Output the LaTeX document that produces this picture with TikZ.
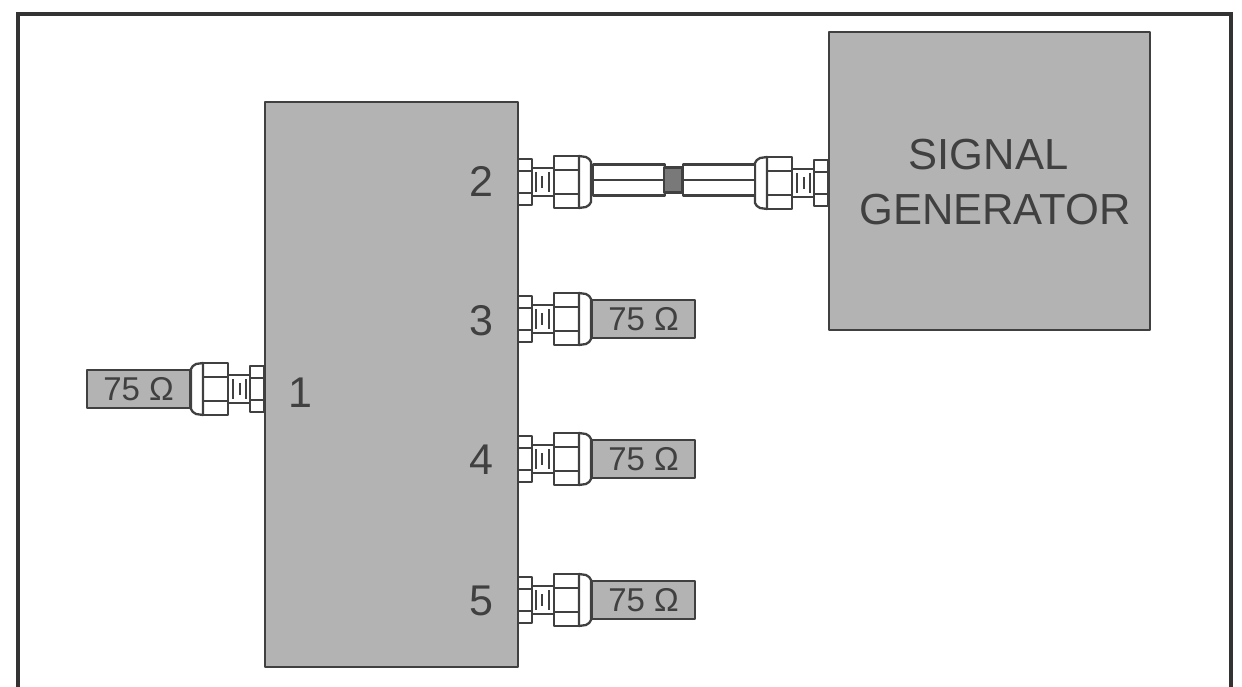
\documentclass[tikz,border=0pt]{standalone}
\usepackage{fontspec}
\setmainfont{Liberation Sans}
\definecolor{boxgray}{HTML}{B3B3B3}
\definecolor{wiregray}{HTML}{404040}
\tikzset{
  wire/.style={draw=wiregray,line width=2.3pt,line join=round},
  box/.style={wire,fill=boxgray,inner sep=0pt,text=wiregray},
  portlabel/.style={inner sep=0pt,text=wiregray,font=\fontsize{43}{43}\selectfont},
  load/.style={box,minimum width=103pt,minimum height=38pt,anchor=west,font=\fontsize{33}{33}\selectfont},
  cable/.style={wire,fill=white,inner sep=0pt,minimum width=72pt,minimum height=31pt,anchor=west},
  fitting/.pic={
    \draw[wire,fill=white] (0,-23) rectangle (14,23);
    \draw[wire] (0,-11)--(14,-11) (0,11)--(14,11);
    \draw[wire,fill=white] (14,-14) rectangle (36,14);
    \draw[wire] (18,-10)--(18,10) (24,-6)--(24,6) (31,-10)--(31,10);
    \draw[wire,fill=white] (36,-26) rectangle (61,26);
    \draw[wire] (36,-12)--(61,-12) (36,12)--(61,12);
    \draw[wire,fill=white] (61,-26) -- (68,-25) .. controls (71,-24) and (72,-22) .. (73,-20) -- (73,20) .. controls (72,22) and (71,24) .. (68,25) -- (61,26) -- cycle;
  }
}
\begin{document}
\begin{tikzpicture}[x=1pt,y=-1pt]
\useasboundingbox (0,0) rectangle (1242,687);
\draw[draw=black!80,line width=4pt] (18,687)--(18,14)--(1231,14)--(1231,687);
% ports on the main box
\node[box,minimum width=253pt,minimum height=565pt] (splitter) at (391.5,384.5) {};
\node[box,minimum width=321pt,minimum height=298pt] (generator) at (989.5,181) {};
\node[inner sep=0pt,text=wiregray,align=center,font=\fontsize{43.5}{55}\selectfont] (genlabel) at (995,182) {SIGNAL\hspace*{13pt}\\GENERATOR};
\node[portlabel] (port1) at (300,393) {1};
\node[portlabel] (port2) at (481,181) {2};
\node[portlabel] (port3) at (481,321) {3};
\node[portlabel] (port4) at (481,460) {4};
\node[portlabel] (port5) at (481,601) {5};
% terminated outputs
\foreach \n/\y in {3/319,4/459,5/600} {
  \pic at (518,\y) {fitting};
  \node[load] (load\n) at (591,\y) {75 Ω};
}
% terminated input
\pic[xscale=-1] at (264,389) {fitting};
\node[load] (load1) at (86,389) {75 Ω};
% cable to the generator
\pic at (518,182) {fitting};
\pic[xscale=-1] at (828,183) {fitting};
\node[cable] (cableA) at (592,180) {};
\node[cable] (cableB) at (682,180) {};
\draw[wire] (cableA.west)--(cableA.east) (cableB.west)--(cableB.east);
\node[wire,fill=wiregray!70,inner sep=0pt,minimum width=18pt,minimum height=25pt] (joint) at (673,180) {};
\end{tikzpicture}
\end{document}
